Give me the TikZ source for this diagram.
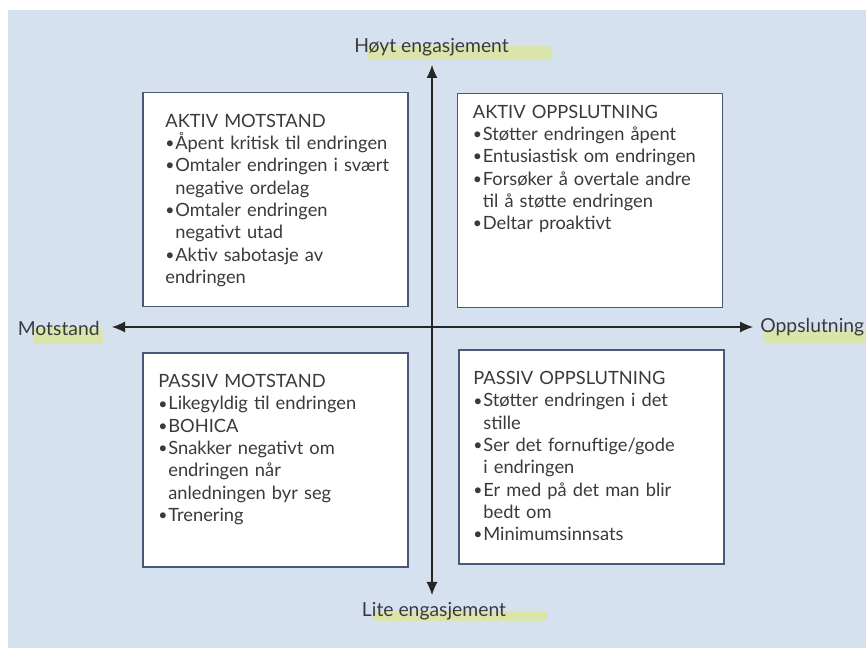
\documentclass[tikz,border=0pt]{standalone}
\usepackage{fontspec}
\setmainfont{Lato}
\usetikzlibrary{arrows.meta,positioning}

\definecolor{bakgrunn}{RGB}{214,225,239}
\definecolor{ramme}{RGB}{72,88,118}
\definecolor{tekst}{RGB}{58,58,62}
\definecolor{merke}{RGB}{222,232,128}

\setlength{\parindent}{0pt}
\newcommand{\linje}{\hfil\break}
\newcommand{\punkt}[1]{\par\hangindent=0.2cm\hangafter=1\noindent\makebox[0.2cm][l]{\raisebox{0.1ex}{\small\textbullet}}#1}

\begin{document}
\begin{tikzpicture}[
  felt/.style={draw=ramme,line width=1.1pt,fill=white,minimum width=5.3cm,minimum height=4.28cm,inner sep=0pt},
  felttekst/.style={text width=5cm,align=left,inner sep=0pt,text=tekst,font=\fontsize{10.4}{12.7}\selectfont},
  akse/.style={-{Latex[length=2.6mm,width=2.2mm]},line width=0.6pt,draw=black!85},
  aksetekst/.style={text=tekst,font=\fontsize{11}{13}\selectfont,inner sep=0pt},
  merking/.style={fill=merke,opacity=0.6,rounded corners=2pt}
]
  \useasboundingbox (0,0) rectangle (17.32,12.96);
  \fill[bakgrunn] (0.16,0) rectangle (17.32,12.76);

  % highlighter strokes
  \fill[merking] (7.34,11.76) rectangle (11.04,12.04);
  \fill[merking] (0.66,6.08) rectangle (2.06,6.4);
  \fill[merking] (15.26,6.1) rectangle (17.32,6.36);
  \fill[merking] (7.46,0.54) rectangle (10.94,0.74);

  % the four fields
  \node[felt] (aktivMot) at (5.51,8.97) {};
  \node[felt] (aktivOpp) at (11.8,8.95) {};
  \node[felt] (passivMot) at (5.51,3.76) {};
  \node[felt] (passivOpp) at (11.83,3.82) {};

  \node[felttekst,below right=0.44cm and 0.46cm of aktivMot.north west] (aktivMotTekst) {%
    AKTIV MOTSTAND
    \punkt{Åpent kritisk til endringen}
    \punkt{Omtaler endringen i svært\linje negative ordelag}
    \punkt{Omtaler endringen\linje negativt utad}
    \punkt{Aktiv sabotasje av\linje endringen}};
  \node[felttekst,below right=0.24cm and 0.32cm of aktivOpp.north west] (aktivOppTekst) {%
    AKTIV OPPSLUTNING
    \punkt{Støtter endringen åpent}
    \punkt{Entusiastisk om endringen}
    \punkt{Forsøker å overtale andre\linje til å støtte endringen}
    \punkt{Deltar proaktivt}};
  \node[felttekst,below right=0.44cm and 0.32cm of passivMot.north west] (passivMotTekst) {%
    PASSIV MOTSTAND
    \punkt{Likegyldig til endringen}
    \punkt{BOHICA}
    \punkt{Snakker negativt om\linje endringen når\linje anledningen byr seg}
    \punkt{Trenering}};
  \node[felttekst,below right=0.44cm and 0.3cm of passivOpp.north west] (passivOppTekst) {%
    PASSIV OPPSLUTNING
    \punkt{Støtter endringen i det\linje stille}
    \punkt{Ser det fornuftige/gode\linje i endringen}
    \punkt{Er med på det man blir\linje bedt om}
    \punkt{Minimumsinnsats}};

  % axes
  \coordinate (midt) at (8.64,6.42);
  \coordinate (topp) at (8.64,11.66);
  \coordinate (bunn) at (8.64,1.06);
  \coordinate (venstre) at (2.24,6.42);
  \coordinate (hoyre) at (15.06,6.42);
  \draw[akse] (midt) -- (topp);
  \draw[akse] (midt) -- (bunn);
  \draw[akse] (midt) -- (venstre);
  \draw[akse] (midt) -- (hoyre);

  \node[aksetekst,anchor=base] (hoyt) at (8.63,11.9) {Høyt engasjement};
  \node[aksetekst,anchor=base] (lite) at (8.68,0.64) {Lite engasjement};
  \node[aksetekst,anchor=base east] (motstand) at (2.0,6.24) {Motstand};
  \node[aksetekst,anchor=base west] (oppslutning) at (15.2,6.3) {Oppslutning};
\end{tikzpicture}
\end{document}
